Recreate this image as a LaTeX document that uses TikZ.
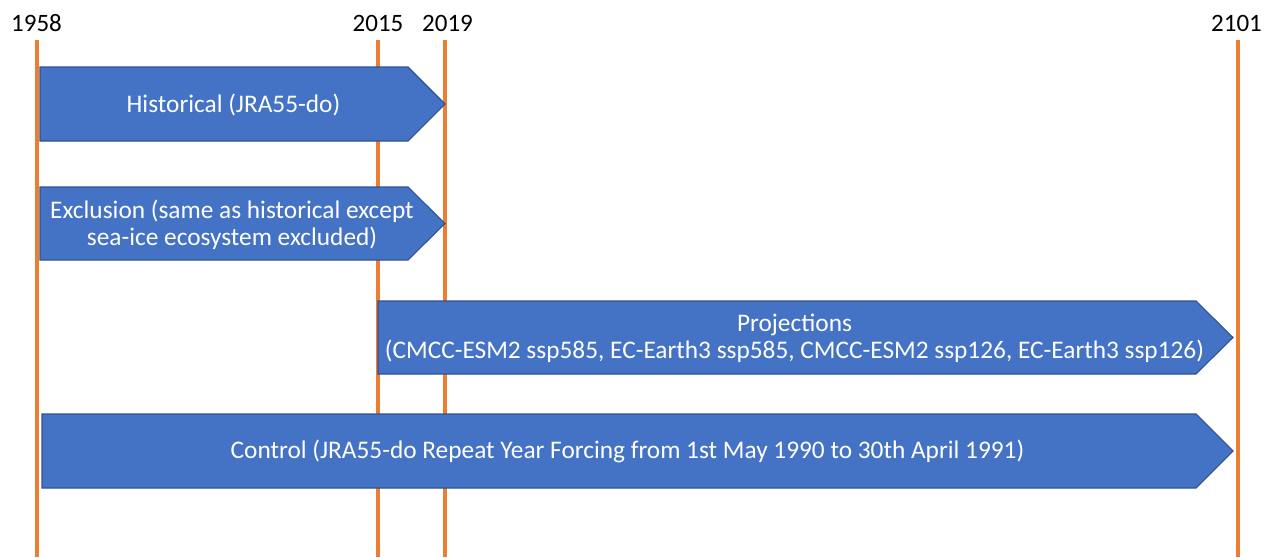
\documentclass[tikz,border=0pt]{standalone}
\usepackage{fontspec}
\setmainfont{Carlito}
\definecolor{boxblue}{HTML}{4472C4}
\definecolor{boxedge}{HTML}{2F528F}
\definecolor{yearline}{HTML}{ED7D31}
\begin{document}
\begin{tikzpicture}[x=0.75pt,y=-0.75pt,
  yearrule/.style={draw=yearline,line width=3pt},
  yearlabel/.style={inner sep=0pt,anchor=base,font=\fontsize{18.75}{22}\selectfont,text=black},
  phase/.style={fill=boxblue,draw=boxedge,line width=0.8pt,line join=miter},
  phasetext/.style={inner sep=0pt,align=center,text=white,font=\fontsize{19}{20.5}\selectfont}]
\useasboundingbox (0,0) rectangle (1266,557);
% year rules
\coordinate (t1958) at (37,40);  \coordinate (b1958) at (37,557);
\coordinate (t2015) at (378,40); \coordinate (b2015) at (378,557);
\coordinate (t2019) at (445,40); \coordinate (b2019) at (445,557);
\coordinate (t2101) at (1238,40);\coordinate (b2101) at (1238,557);
\draw[yearrule] (t1958) -- (b1958);
\draw[yearrule] (t2015) -- (b2015);
\draw[yearrule] (t2019) -- (b2019);
\draw[yearrule] (t2101) -- (b2101);
% year labels
\node[yearlabel] (y1958) at (36.5,31) {1958};
\node[yearlabel] (y2015) at (378,31) {2015};
\node[yearlabel] (y2019) at (447.5,31) {2019};
\node[yearlabel] (y2101) at (1236.5,31) {2101};
% phases
\draw[phase] (40,67) -- (408,67) -- (445,104) -- (408,141) -- (40,141) -- cycle;
\node[phasetext] (hist) at (233.5,104.5) {Historical (JRA55-do)};
\draw[phase] (40,187) -- (408,187) -- (445,223.5) -- (408,260) -- (40,260) -- cycle;
\node[phasetext] (excl) at (232,225) {Exclusion (same as historical except\\sea-ice ecosystem excluded)};
\draw[phase] (378,301) -- (1196,301) -- (1233,337.5) -- (1196,374) -- (378,374) -- cycle;
\node[phasetext] (proj) at (794.5,338.5) {Projections\\(CMCC-ESM2 ssp585, EC-Earth3 ssp585, CMCC-ESM2 ssp126, EC-Earth3 ssp126)};
\draw[phase] (42,414) -- (1196,414) -- (1233,451) -- (1196,488) -- (42,488) -- cycle;
\node[phasetext] (ctrl) at (627.5,451.5) {Control (JRA55-do Repeat Year Forcing from 1st May 1990 to 30th April 1991)};
\end{tikzpicture}
\end{document}
